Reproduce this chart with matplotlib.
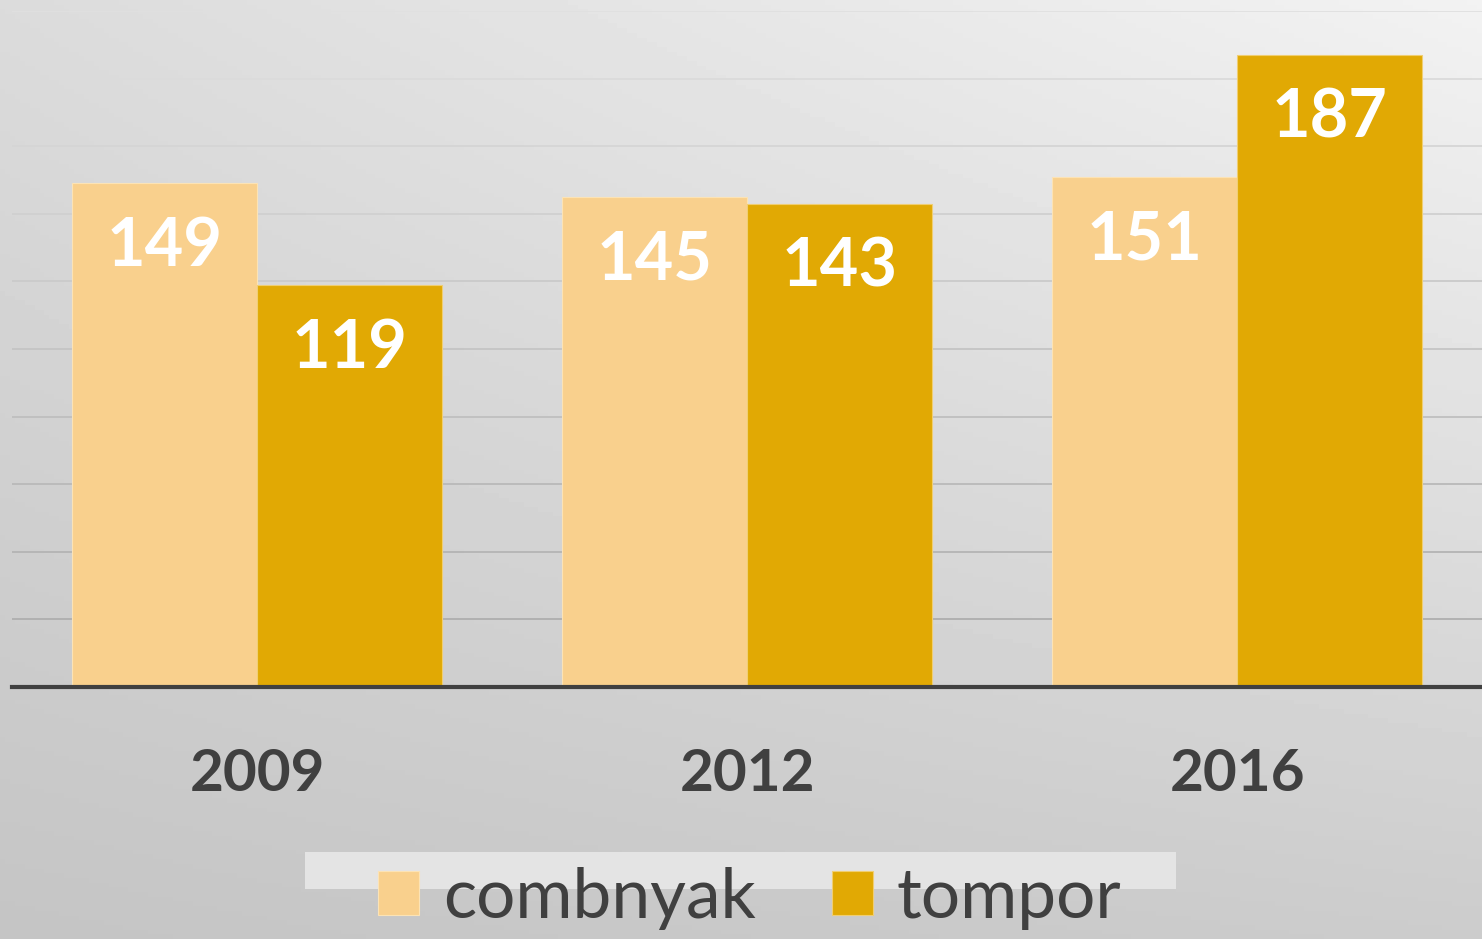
import numpy as np
import matplotlib
matplotlib.use("Agg")
import matplotlib.pyplot as plt
from matplotlib.patches import Rectangle

plt.rcParams['font.family'] = ['Lato', 'DejaVu Sans']

## data
years = ["2009", "2012", "2016"]
combnyak = [149, 145, 151]
tompor = [119, 143, 187]
series_names = ["combnyak", "tompor"]
colors = ["#F9D08D", "#E1A904"]

fig = plt.figure(figsize=(14.82, 9.39), dpi=100)

# background gradient over the whole figure
bg = fig.add_axes([0, 0, 1, 1], zorder=-10)
yy, xx = np.mgrid[0:1:200j, 0:1:300j]
shade = 0.80 + 0.15 * yy - 0.06 * (1 - xx) * yy - 0.03 * (1 - xx)
bg.imshow(shade, cmap='gray', vmin=0, vmax=1, origin='lower', aspect='auto',
          extent=[0, 1, 0, 1])
bg.axis('off')

# light strip behind the legend
fig.patches.append(Rectangle((305 / 1482, 1 - 889 / 939), 871 / 1482, 37 / 939,
                             transform=fig.transFigure, facecolor='#e4e4e4',
                             edgecolor='none', zorder=-5))

ax = fig.add_axes([12 / 1482, 1 - 687 / 939, 1 - 12 / 1482, (687 - 11) / 939])
ax.patch.set_alpha(0)

x = np.arange(len(years))
w = 0.377
b1 = ax.bar(x - w / 2, combnyak, w, color=colors[0], edgecolor='#FCE3B5', linewidth=0.8,
            label=series_names[0], zorder=3)
b2 = ax.bar(x + w / 2, tompor, w, color=colors[1], edgecolor='#F0CE72', linewidth=0.8,
            label=series_names[1], zorder=3)

ax.set_xlim(-0.5, 2.5)
ax.set_ylim(0, 200)

# gridlines, lighter toward the top
for lev in range(20, 201, 20):
    g = 0.66 + 0.22 * lev / 200
    ax.axhline(lev, color=(g, g, g), linewidth=1.3, zorder=1)

for s in ['top', 'right', 'left']:
    ax.spines[s].set_visible(False)
ax.spines['bottom'].set_color('#404040')
ax.spines['bottom'].set_linewidth(3)
ax.spines['bottom'].set_zorder(4)

ax.set_yticks([])
ax.set_xticks(x)
ax.set_xticklabels(years, fontsize=42, fontweight='bold', color='#404040')
ax.tick_params(axis='x', length=0, pad=44)

for bars in (b1, b2):
    for r in bars:
        ax.annotate(f"{int(r.get_height())}", (r.get_x() + r.get_width() / 2, r.get_height()),
                    xytext=(0, -46), textcoords='offset points', ha='center', va='center',
                    fontsize=48, fontweight='bold', color='white', zorder=5)

fig.legend(handles=[b1, b2], labels=series_names, loc='center',
           bbox_to_anchor=(750 / 1482, 1 - 898 / 939), ncol=2, frameon=False,
           fontsize=50, labelcolor='#404040', handlelength=0.58, handleheight=0.58,
           handletextpad=0.35, columnspacing=1.1)

fig.savefig("out.png", dpi=100)
